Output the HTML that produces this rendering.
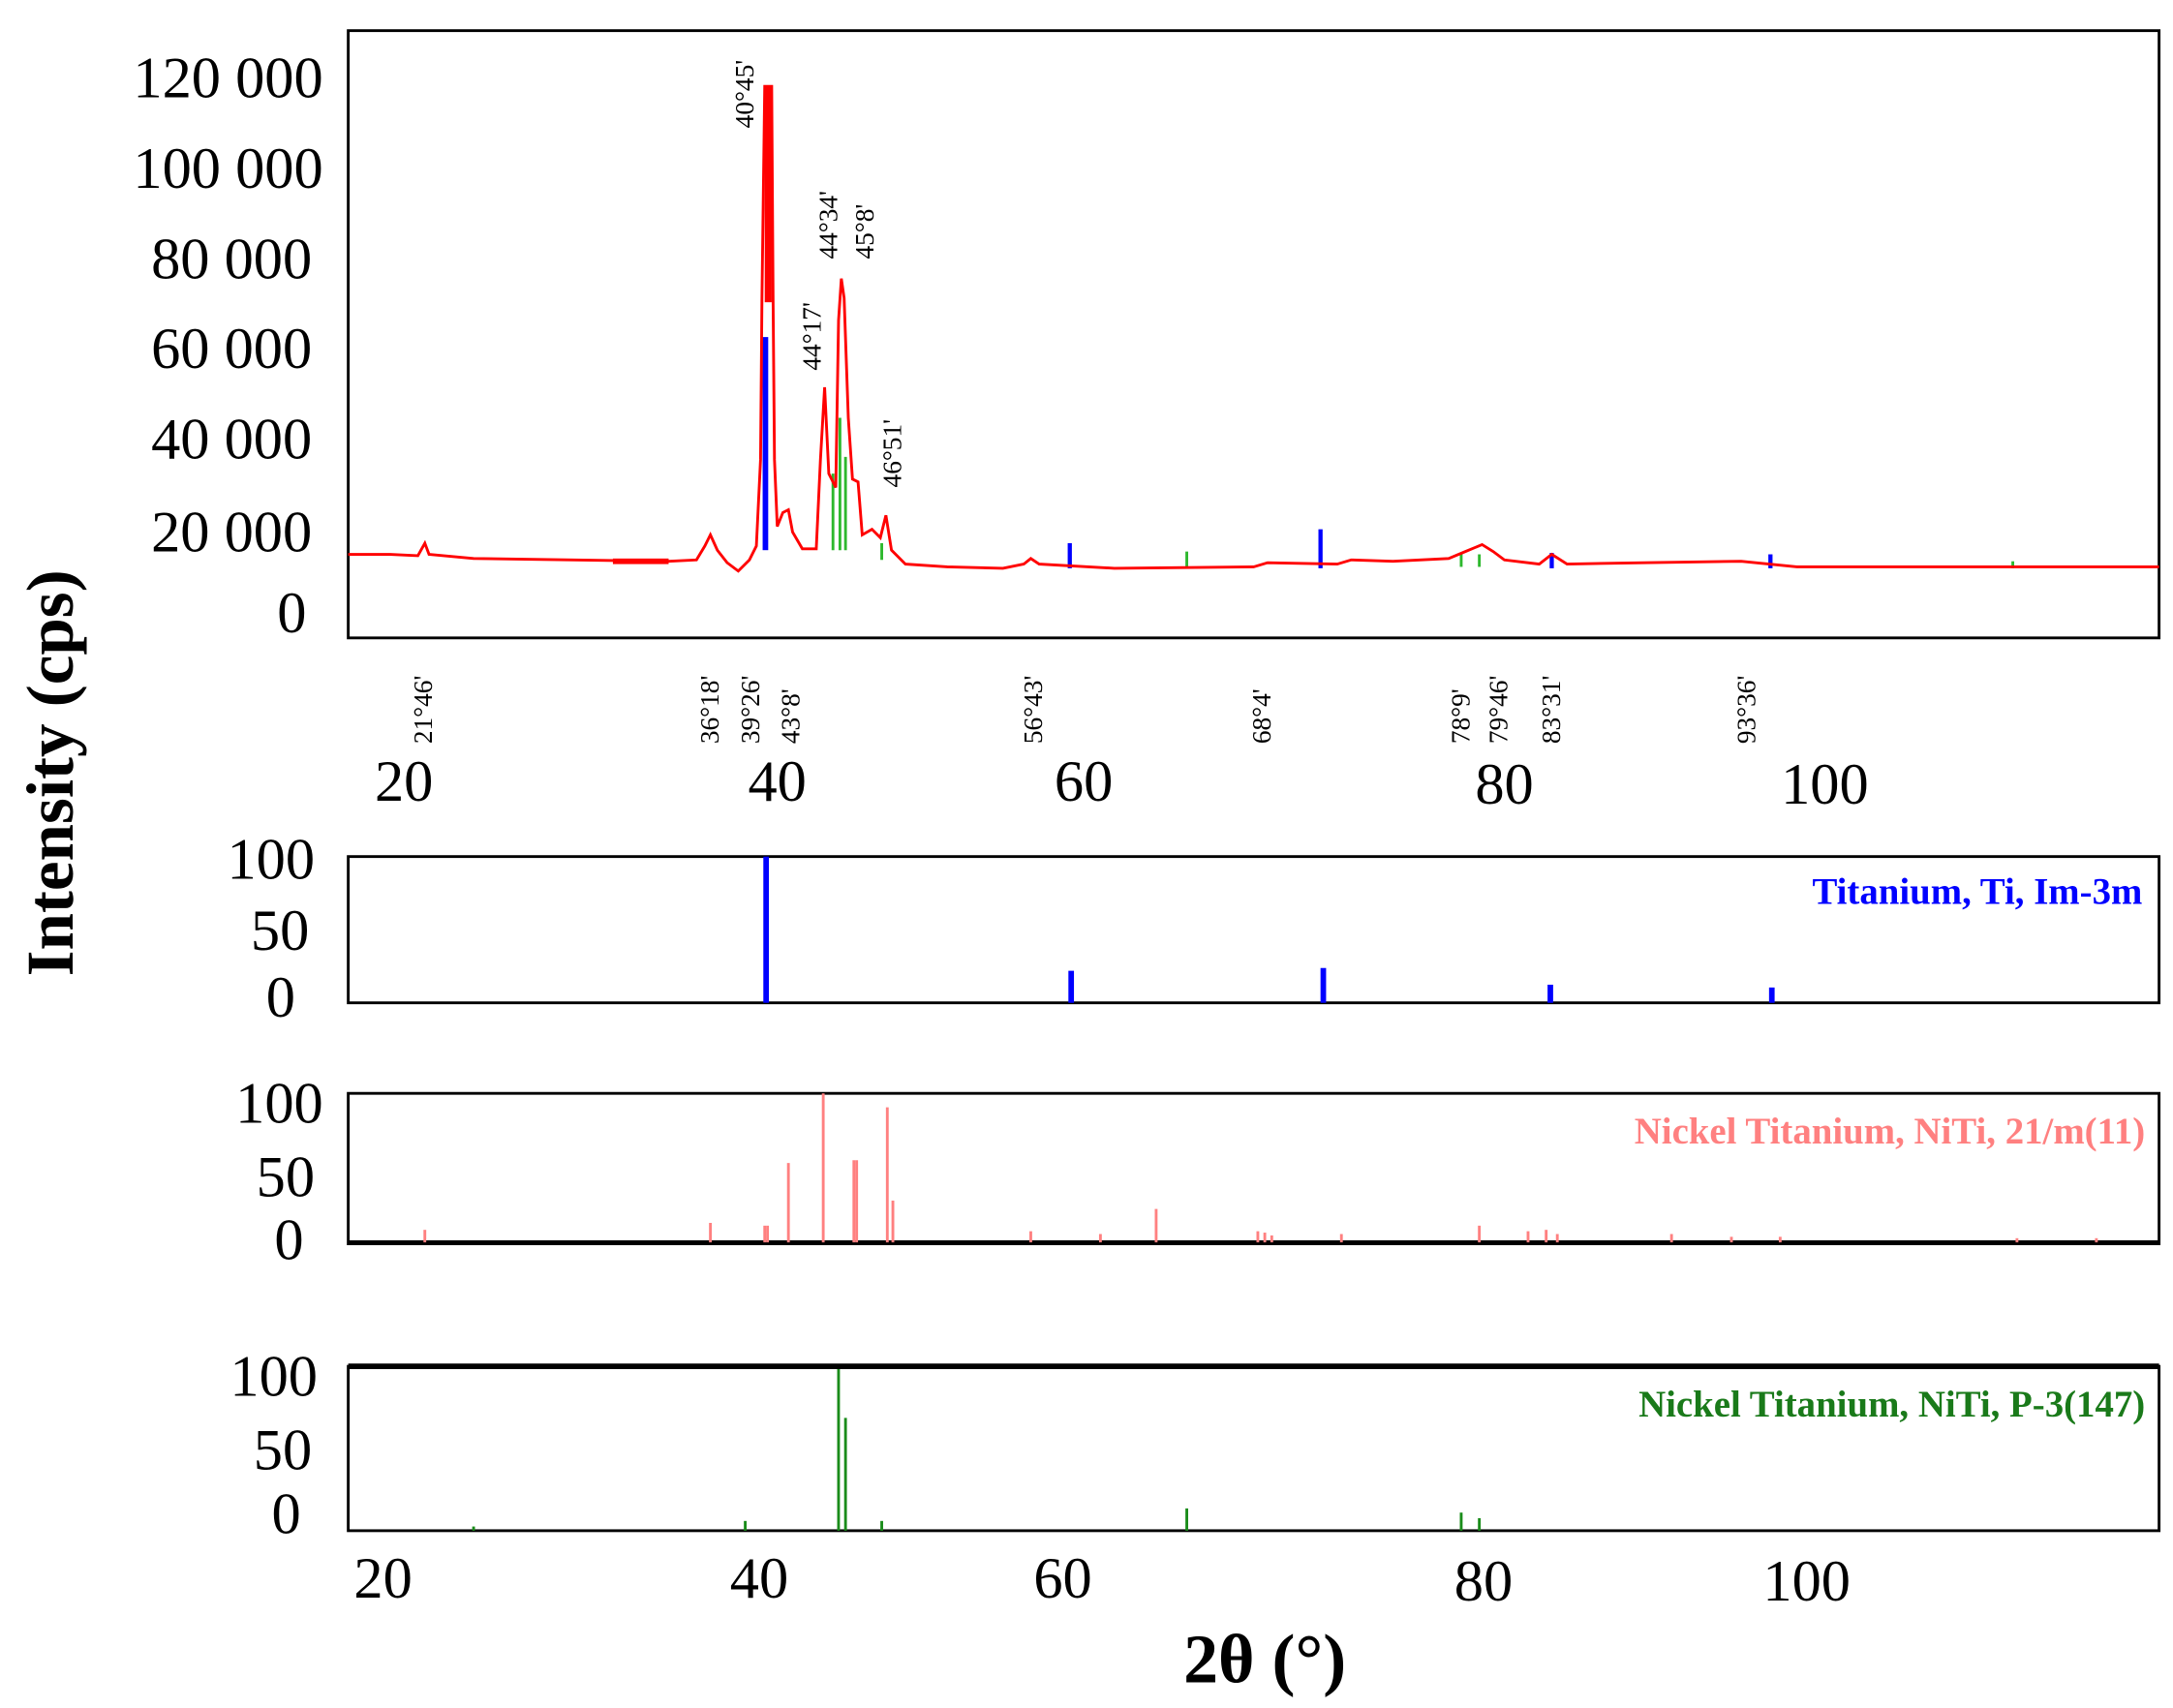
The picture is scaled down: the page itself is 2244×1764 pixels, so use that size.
<!DOCTYPE html>
<html><head><meta charset="utf-8"><style>
html,body{margin:0;padding:0;background:#fff;}
svg{display:block;}
text{font-family:"Liberation Serif",serif;}
.t{font-size:42px;fill:#000;}
.a{font-family:"Liberation Sans",sans-serif;font-size:19px;fill:#000;}
</style></head><body>
<svg width="2244" height="1764" viewBox="0 0 1560 1226.3" xmlns="http://www.w3.org/2000/svg">
<rect width="1560" height="1227" fill="#fff"/>
<!-- main plot frame -->
<rect x="250" y="22" width="1300" height="436" fill="none" stroke="#000" stroke-width="2"/>
<!-- y labels -->
<g class="t" text-anchor="end">
<text x="232" y="70">120 000</text>
<text x="232" y="135">100 000</text>
<text x="224" y="200">80 000</text>
<text x="224" y="264">60 000</text>
<text x="224" y="329">40 000</text>
<text x="224" y="396">20 000</text>
<text x="220" y="454">0</text>
</g>
<!-- green bits in main -->
<g stroke="#2db82d" stroke-width="2">
<line x1="603" y1="300" x2="603" y2="395"/><line x1="607" y1="328" x2="607" y2="395"/>
<line x1="598" y1="340" x2="598" y2="395"/><line x1="633" y1="390" x2="633" y2="402"/>
<line x1="852" y1="396" x2="852" y2="407"/><line x1="1049" y1="397" x2="1049" y2="407"/><line x1="1062" y1="398" x2="1062" y2="407"/>
<line x1="1445" y1="403" x2="1445" y2="408"/>
</g>
<!-- blue in main -->
<rect x="547.5" y="242" width="4" height="153" fill="#0000ff"/>
<g stroke="#0000ff" stroke-width="3">
<line x1="768" y1="390" x2="768" y2="408"/><line x1="948" y1="380" x2="948" y2="408"/>
<line x1="1114" y1="397" x2="1114" y2="408"/><line x1="1271" y1="398" x2="1271" y2="408"/>
</g>
<!-- red trace -->
<polyline fill="none" stroke="#ff0000" stroke-width="2" points="250,398 280,398 300,399 305,390 308,398 340,401 480,403 500,402 506,392 510,384 515,395 522,404 530,410 538,402 543,392 546,330 547,215 549,62 554,62 555,215 556,330 558,378 562,368 566,366 569,382 576,394 586,394 589,330 592,278 595,340 600,350 602,230 604,200 606,214 609,300 612,344 616,346 619,384 626,380 632,386 636,370 640,395 650,405 680,407 720,408 735,405 740,401 746,405 800,408 900,407 910,404 960,405 970,402 1000,403 1040,401 1052,396 1064,391 1072,396 1080,402 1105,405 1114,398 1125,405 1180,404 1250,403 1290,407 1550,407"/>
<rect x="549" y="62" width="5" height="155" fill="#ff0000"/>
<rect x="440" y="401" width="40" height="4" fill="#ff0000"/>
<!-- annotations -->
<g class="a">
<text transform="translate(541,92) rotate(-90)">40°45'</text>
<text transform="translate(589,266) rotate(-90)">44°17'</text>
<text transform="translate(601,186) rotate(-90)">44°34'</text>
<text transform="translate(627,186) rotate(-90)">45°8'</text>
<text transform="translate(647,350) rotate(-90)">46°51'</text>
<text transform="translate(310,534) rotate(-90)">21°46'</text>
<text transform="translate(516,534) rotate(-90)">36°18'</text>
<text transform="translate(545,534) rotate(-90)">39°26'</text>
<text transform="translate(574,534) rotate(-90)">43°8'</text>
<text transform="translate(748,534) rotate(-90)">56°43'</text>
<text transform="translate(912,534) rotate(-90)">68°4'</text>
<text transform="translate(1055,534) rotate(-90)">78°9'</text>
<text transform="translate(1082,534) rotate(-90)">79°46'</text>
<text transform="translate(1120,534) rotate(-90)">83°31'</text>
<text transform="translate(1260,534) rotate(-90)">93°36'</text>
</g>
<!-- middle x ticks -->
<g class="t" text-anchor="middle">
<text x="290" y="575">20</text><text x="558" y="575">40</text><text x="778" y="575">60</text>
<text x="1080" y="577">80</text><text x="1310" y="577">100</text>
</g>
<!-- Ti panel -->
<rect x="250" y="615" width="1300" height="105" fill="none" stroke="#000" stroke-width="2"/>
<g class="t" text-anchor="end"><text x="226" y="631">100</text><text x="222" y="682">50</text><text x="212" y="730">0</text></g>
<g fill="#0000ff">
<rect x="548" y="615" width="4" height="105"/><rect x="767" y="697" width="4" height="23"/>
<rect x="948" y="695" width="4" height="25"/><rect x="1111" y="707" width="4" height="13"/><rect x="1270" y="709" width="4" height="11"/>
</g>
<text x="1538" y="649" text-anchor="end" style="font-size:27px;font-weight:bold;fill:#0000ff">Titanium, Ti, Im-3m</text>
<!-- NiTi 21/m panel -->
<rect x="250" y="785" width="1300" height="108" fill="none" stroke="#000" stroke-width="2"/>
<line x1="250" y1="892" x2="1550" y2="892" stroke="#000" stroke-width="3"/>
<g class="t" text-anchor="end"><text x="232" y="806">100</text><text x="226" y="859">50</text><text x="218" y="904">0</text></g>
<g stroke="#ff8080" stroke-width="2">
<line x1="305" y1="883" x2="305" y2="892"/><line x1="510" y1="878" x2="510" y2="892"/>
<line x1="549" y1="880" x2="549" y2="892"/><line x1="551" y1="880" x2="551" y2="892"/>
<line x1="566" y1="835" x2="566" y2="892"/><line x1="591" y1="785" x2="591" y2="892"/>
<line x1="613" y1="833" x2="613" y2="892"/><line x1="615" y1="833" x2="615" y2="892"/>
<line x1="637" y1="795" x2="637" y2="892"/><line x1="641" y1="862" x2="641" y2="892"/>
<line x1="740" y1="884" x2="740" y2="892"/><line x1="790" y1="886" x2="790" y2="892"/>
<line x1="830" y1="868" x2="830" y2="892"/><line x1="903" y1="884" x2="903" y2="892"/>
<line x1="908" y1="885" x2="908" y2="892"/><line x1="913" y1="887" x2="913" y2="892"/>
<line x1="963" y1="886" x2="963" y2="892"/><line x1="1062" y1="880" x2="1062" y2="892"/>
<line x1="1097" y1="884" x2="1097" y2="892"/><line x1="1110" y1="883" x2="1110" y2="892"/>
<line x1="1118" y1="886" x2="1118" y2="892"/><line x1="1200" y1="886" x2="1200" y2="892"/>
<line x1="1243" y1="888" x2="1243" y2="892"/><line x1="1278" y1="888" x2="1278" y2="892"/>
<line x1="1505" y1="889" x2="1505" y2="892"/><line x1="1448" y1="889" x2="1448" y2="892"/>
</g>
<text x="1540" y="821" text-anchor="end" style="font-size:27px;font-weight:bold;fill:#ff8080">Nickel Titanium, NiTi, 21/m(11)</text>
<!-- P-3 panel -->
<rect x="250" y="981" width="1300" height="118" fill="none" stroke="#000" stroke-width="2"/>
<line x1="250" y1="981" x2="1550" y2="981" stroke="#000" stroke-width="4"/>
<g class="t" text-anchor="end"><text x="228" y="1002">100</text><text x="224" y="1055">50</text><text x="216" y="1101">0</text></g>
<g stroke="#1a8c1a" stroke-width="2">
<line x1="602" y1="983" x2="602" y2="1099"/><line x1="607" y1="1018" x2="607" y2="1099"/>
<line x1="535" y1="1092" x2="535" y2="1099"/><line x1="633" y1="1092" x2="633" y2="1099"/>
<line x1="852" y1="1083" x2="852" y2="1099"/><line x1="1049" y1="1086" x2="1049" y2="1099"/>
<line x1="1062" y1="1090" x2="1062" y2="1099"/><line x1="340" y1="1096" x2="340" y2="1099"/>
</g>
<text x="1540" y="1017" text-anchor="end" style="font-size:27px;font-weight:bold;fill:#1a7a1a">Nickel Titanium, NiTi, P-3(147)</text>
<!-- bottom ticks -->
<g class="t" text-anchor="middle">
<text x="275" y="1147">20</text><text x="545" y="1147">40</text><text x="763" y="1147">60</text>
<text x="1065" y="1149">80</text><text x="1297" y="1149">100</text>
</g>
<text x="908" y="1208" text-anchor="middle" style="font-size:50px;font-weight:bold">2θ (°)</text>
<text transform="translate(52,555) rotate(-90)" text-anchor="middle" style="font-size:48px;font-weight:bold">Intensity (cps)</text>
</svg>
</body></html>
